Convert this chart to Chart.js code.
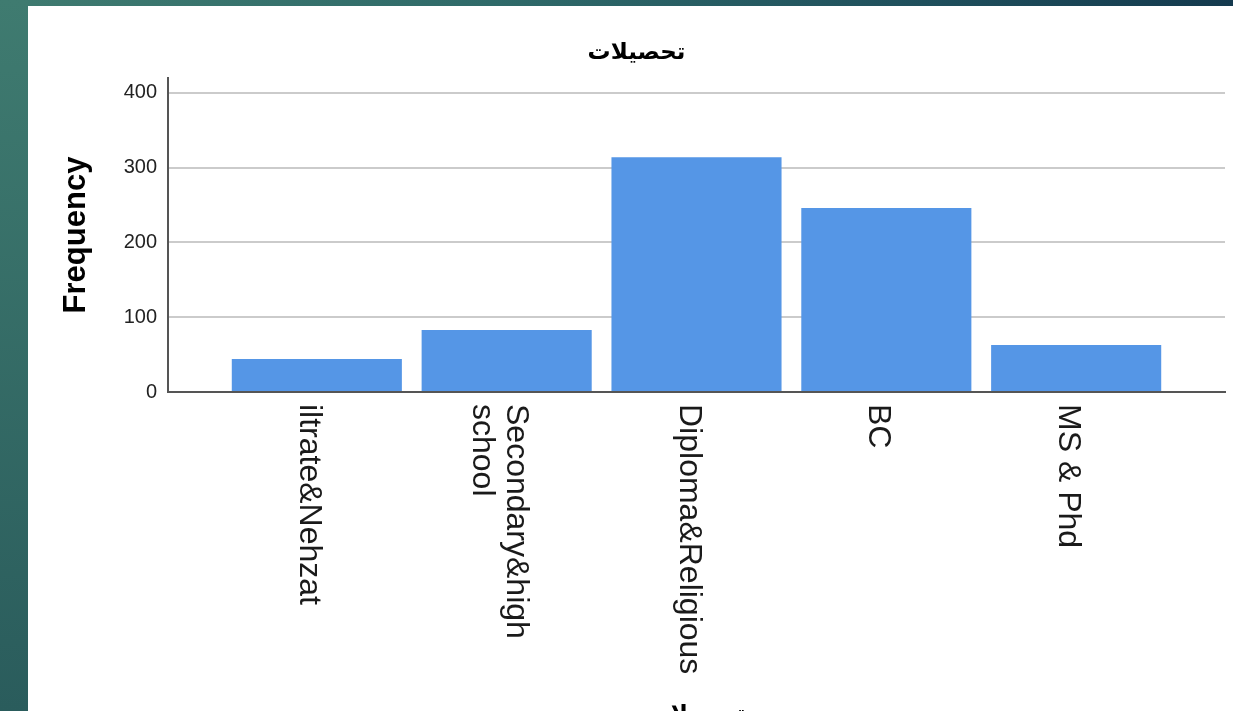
<!DOCTYPE html>
<html><head><meta charset="utf-8">
<script src="https://cdn.jsdelivr.net/npm/chart.js@4"></script>
<style>
html,body{margin:0;padding:0;width:1233px;height:711px;overflow:hidden;background:#fff;}
#top{position:absolute;left:0;top:0;width:1233px;height:6px;background:linear-gradient(to right,#3f7b70 0%,#2f6a69 40%,#1f4f5c 75%,#143a4e 100%);}
#left{position:absolute;left:0;top:0;width:28px;height:711px;background:linear-gradient(to bottom,#3f7b70,#2a5c5c);}
#wrap{position:absolute;left:28px;top:6px;width:1205px;height:705px;overflow:hidden;background:#fff;}
</style></head><body>
<div id="top"></div><div id="left"></div>
<div id="wrap"><canvas id="c" width="1205" height="740"></canvas></div>
<script>
const chartTitle = 'تحصيلات';
const axisTitleX = 'تحصيلات';
const axisTitleY = 'Frequency';
const categories = [['iltrate&Nehzat'], ['Secondary&high', 'school'], ['Diploma&Religious'], ['BC'], ['MS & Phd']];
const frequencies = [44, 83, 314, 246, 63];
const yTicks = [0, 100, 200, 300, 400];

const FONT = '"Liberation Sans", "DejaVu Sans", Arial, sans-serif';
Chart.defaults.font.family = FONT;

const xLabelPlugin = {
  id: 'xLabels',
  afterDatasetsDraw(chart) {
    const xs = chart.scales.x, ctx = chart.ctx;
    const y0 = chart.chartArea.bottom + 12;
    ctx.save();
    ctx.font = '32px ' + FONT;
    ctx.fillStyle = '#1a1a1a';
    ctx.textAlign = 'left';
    ctx.textBaseline = 'alphabetic';
    categories.forEach((lines, i) => {
      const px = xs.getPixelForValue(i);
      const n = lines.length;
      ctx.save();
      ctx.translate(px, y0);
      ctx.rotate(Math.PI / 2);
      lines.forEach((t, k) => {
        const b = 17 - (n - 1) * 17 + 34 * k;
        ctx.fillText(t, 0, b);
      });
      ctx.restore();
    });
    ctx.restore();
  }
};

new Chart(document.getElementById('c'), {
  type: 'bar',
  data: {
    datasets: [{
      data: frequencies.map((v, i) => ({x: i, y: v})),
      backgroundColor: '#5596e6',
      borderWidth: 0,
      categoryPercentage: 1,
      barPercentage: 0.896
    }]
  },
  options: {
    responsive: false,
    animation: false,
    layout: {padding: {left: 20, right: 8, top: 0, bottom: 0}},
    plugins: {
      legend: {display: false},
      tooltip: {enabled: false},
      title: {
        display: true, text: chartTitle, color: '#000',
        font: {size: 23, weight: 'bold'},
        padding: {top: 33, bottom: 11.4}
      }
    },
    scales: {
      x: {
        type: 'linear', min: -0.784, max: 4.784, offset: false,
        grid: {display: false, drawTicks: false},
        border: {display: true, color: '#555', width: 2},
        ticks: {display: false},
        afterBuildTicks(s) { s.ticks = categories.map((_, i) => ({value: i})); },
        title: {display: true, text: axisTitleX, color: '#000', font: {size: 23, weight: 'bold'}, padding: {top: 0, bottom: 18}},
        afterFit(s) { s.height = 354; }
      },
      y: {
        min: 0, max: 420,
        grid: {color: '#cbcbcb', lineWidth: 2, drawTicks: false},
        border: {display: true, color: '#555', width: 2},
        ticks: {font: {size: 20}, color: '#222', padding: 11},
        afterBuildTicks(s) { s.ticks = yTicks.map(v => ({value: v})); },
        title: {display: true, text: axisTitleY, color: '#000', font: {size: 31, weight: 'bold'}, padding: {top: 10, bottom: 0}},
        afterFit(s) { s.width = 120; }
      }
    }
  },
  plugins: [xLabelPlugin]
});
</script>
</body></html>
